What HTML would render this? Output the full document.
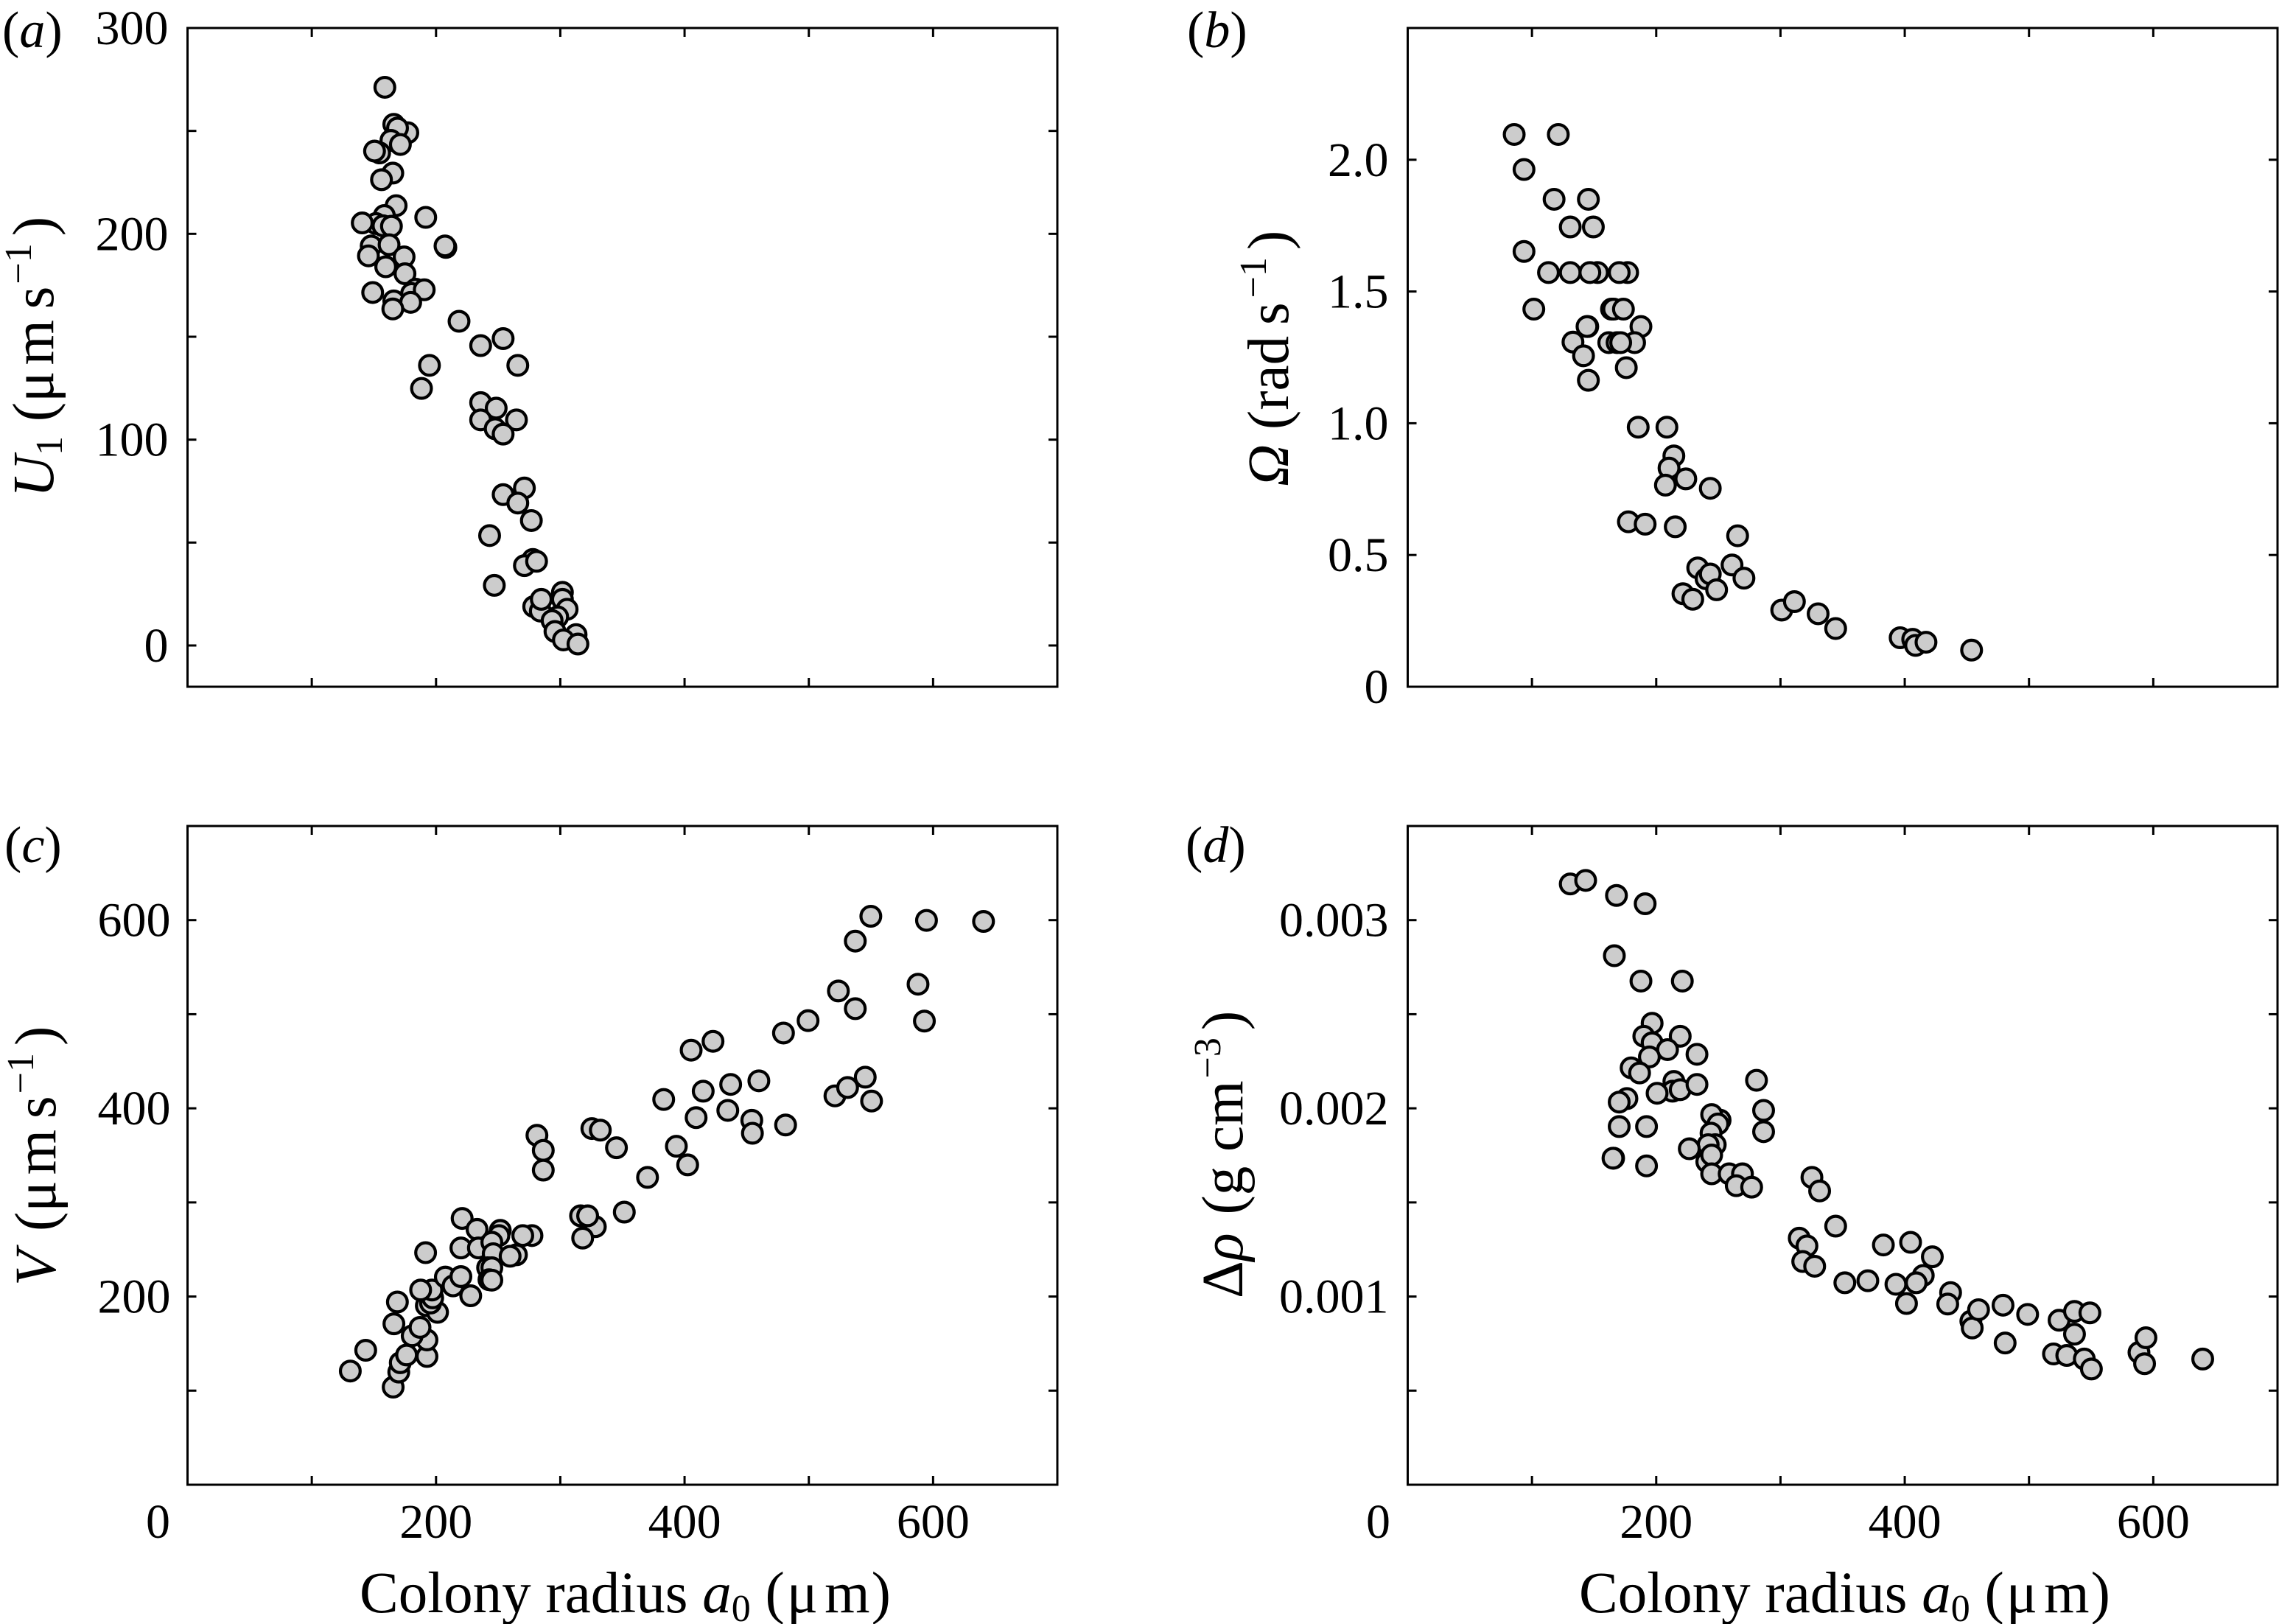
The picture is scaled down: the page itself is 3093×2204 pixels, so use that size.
<!DOCTYPE html>
<html lang="en">
<head>
<meta charset="utf-8">
<title>Colony radius scatter panels</title>
<style>
  html, body { margin: 0; padding: 0; background: #fff; }
  svg { display: block; }
  text { font-family: "Liberation Serif", "DejaVu Serif", serif; fill: #000; }
  .tick-label { font-size: 66px; }
  .axis-title { font-size: 79px; }
  .panel-tag { font-size: 70px; }
  .i { font-style: italic; }
</style>
</head>
<body>
<svg id="figure" xmlns="http://www.w3.org/2000/svg" width="3093" height="2204" viewBox="0 0 3093 2204">
  <rect x="0" y="0" width="3093" height="2204" fill="#fff"/>

  <text class="panel-tag" x="3" y="64">(<tspan class="i">a</tspan>)</text>
  <text class="panel-tag" x="1611" y="64">(<tspan class="i">b</tspan>)</text>
  <text class="panel-tag" x="6" y="1170">(<tspan class="i">c</tspan>)</text>
  <text class="panel-tag" x="1609" y="1170">(<tspan class="i">d</tspan>)</text>

  <text class="axis-title" transform="translate(72,675) rotate(-90)"><tspan class="i">U</tspan><tspan font-size="52" dy="12">1</tspan><tspan dy="-12"> (μ</tspan><tspan dx="8">m</tspan><tspan dx="-5"> s</tspan><tspan font-size="52" dy="-30" dx="3">−1</tspan><tspan dy="30" dx="10">)</tspan></text>
  <text class="axis-title" transform="translate(1748,660) rotate(-90)"><tspan class="i">Ω</tspan> (rad<tspan dx="-5"> s</tspan><tspan font-size="52" dy="-30" dx="6">−1</tspan><tspan dy="30" dx="10">)</tspan></text>
  <text class="axis-title" transform="translate(75,1745) rotate(-90)"><tspan class="i">V</tspan><tspan dx="6"> (μ</tspan><tspan dx="8">m</tspan><tspan dx="-5"> s</tspan><tspan font-size="52" dy="-30" dx="3">−1</tspan><tspan dy="30" dx="10">)</tspan></text>
  <text class="axis-title" transform="translate(1686,1762) rotate(-90)">Δ<tspan class="i">ρ</tspan><tspan dx="5"> (g cm</tspan><tspan font-size="52" dy="-30" dx="3">−3</tspan><tspan dy="30" dx="10">)</tspan></text>

  <text class="axis-title" x="488" y="2188">Colony radius <tspan class="i">a</tspan><tspan font-size="52" dy="12">0</tspan><tspan dy="-12"> (</tspan><tspan dx="3">μ</tspan><tspan dx="9">m</tspan><tspan dx="2">)</tspan></text>
  <text class="axis-title" x="2143" y="2188">Colony radius <tspan class="i">a</tspan><tspan font-size="52" dy="12">0</tspan><tspan dy="-12"> (</tspan><tspan dx="3">μ</tspan><tspan dx="9">m</tspan><tspan dx="2">)</tspan></text>
</svg>

<script>
// Shared tick values
const xTicks = [0, 100, 200, 300, 400, 500, 600, 700];
const xTickLabels = ['0', '200', '400', '600'];
const xLabelledTicks = [0, 200, 400, 600];

// Panel (a): U1 against colony radius
const aRadius = [158.8,166,177.3,169,163.7,171.3,154.6,150.5,165.2,156.1,167.9,191.7,158.4,151.6,140.6,157.3,164.1,207.9,207.2,147.8,162.2,145.6,174.3,159.5,175,149,183.7,180.3,190.5,166,179.6,165.2,218.5,235.9,254,265.8,194.7,188.3,235.9,248.4,235.9,264.7,247.6,254,271.1,254,265.8,276.7,243.1,277.9,271.1,280.9,246.9,301.7,278.6,283.9,284.7,301.7,305.5,297.9,293.4,295.7,312.7,302.5,314.2];
const aSpeed = [271.2,253.2,249.1,251.4,245.4,243.4,239.3,240.2,229.5,226.3,213.7,208,208.9,205,205.3,203.9,203.7,193.4,194.1,194.1,194.7,189.3,188.8,184,180.6,171.5,173.1,171,172.8,167.4,166.7,163.5,157.5,145.7,149.1,136.1,136.1,124.9,118,115.3,109.6,109.6,105.3,102.7,76.5,73.3,69.2,60.7,53.4,41.8,38.8,40.9,29.2,25.8,18.9,16.7,22.4,22.4,17.6,13.9,12.1,6.8,5.3,2.7,0.7];
const aYTicks = [0, 50, 100, 150, 200, 250, 300];
const aYLabelledTicks = [0, 100, 200, 300];
const aYTickLabels = ['0', '100', '200', '300'];

// Panel (b): Omega against colony radius
const bRadius = [85.7,121.2,93.6,117.8,145.4,130.8,149.4,93.6,113.3,130.8,152.8,146.6,177,170.2,101.5,164,165.7,173.6,144.9,144.3,187.7,133,161.8,182.6,168.5,171.4,141.5,175.9,145.4,185.5,208.6,214.2,210.3,223.8,207.4,243.5,177.6,191.1,215.3,265.5,233.4,261,270.6,240.1,243.5,248.6,221.5,229.4,301,311.2,330.3,344.4,396.3,406.4,408.7,417.1,453.8];
const bOmega = [2.096,2.096,1.963,1.85,1.85,1.745,1.745,1.652,1.572,1.572,1.572,1.572,1.572,1.572,1.433,1.433,1.433,1.433,1.367,1.367,1.367,1.308,1.306,1.306,1.306,1.306,1.256,1.211,1.163,0.985,0.985,0.876,0.83,0.789,0.765,0.753,0.626,0.617,0.607,0.573,0.451,0.462,0.412,0.41,0.428,0.368,0.353,0.332,0.291,0.323,0.277,0.221,0.186,0.18,0.157,0.169,0.139];
const bYTicks = [0, 0.5, 1, 1.5, 2, 2.5];
const bYLabelledTicks = [0, 0.5, 1, 1.5, 2];
const bYTickLabels = ['0', '0.5', '1.0', '1.5', '2.0'];

// Panel (c): V against colony radius
const cRadius = [131,143.4,165.5,170,171.2,176.3,192.7,192.7,180.8,187.1,166.1,168.9,191.6,192.2,201.2,195.6,197.3,196.7,187.6,207.5,213.7,220,227.9,221,220,233,234.1,251.7,250.6,244.9,246,264.7,259.6,241.5,244.9,242.6,244.9,277.2,269.8,281.2,286.3,286.3,316.3,328.2,322,318,325.4,332.2,345.2,351.5,370.2,383.2,393.4,402.5,405.3,422.9,415,409.3,437.1,434.8,459.8,454.1,454.6,479.6,481.3,499.4,521,523.8,531.2,537.4,537.4,545.4,550.5,549.9,587.9,593,594.7,640.6];
const cSpeed = [120.8,142.9,103.7,119.7,129.7,137.9,136.3,153.9,158.3,167.2,171,194.2,246.6,190.3,183.2,193.1,198.6,206.9,206.9,220.7,211.3,221.2,200.8,283,251.6,271.4,251.6,270.3,264.8,257.7,245.5,244.4,242.8,230.6,230.6,217.9,217.4,264.8,264.8,371.3,355.3,334.3,285.8,274.2,285.8,262.1,378.5,376.8,358.1,289.7,326.6,409.4,359.7,339.9,461.8,471.2,418.2,390.1,425.4,397.8,429.2,387.3,373.5,480,382.3,493.2,413.2,524.7,422.1,505.9,577.7,433.1,407.7,604.1,531.9,492.7,599.7,598.6];
const cYTicks = [0, 100, 200, 300, 400, 500, 600, 700];
const cYLabelledTicks = [200, 400, 600];
const cYTickLabels = ['200', '400', '600'];

// Panel (d): density difference against colony radius
const dRadius = [130.8,143.2,168,191.1,166.3,187.7,221,196.7,190,219.3,196.7,209.1,194.5,232.8,179.8,186.6,280.7,214.2,213.1,219.3,232.8,200.7,176.4,170.2,286.4,251.4,244.6,249.7,170.2,192.2,286.4,244.1,247.5,241.8,226.6,240.7,244.6,165.7,165.2,192.2,244.6,258.7,269.4,264.4,276.8,325.3,331.5,344.4,315.1,321.3,317.9,327.5,351.8,370.3,382.8,404.7,422.2,414.9,409.2,392.9,401.4,436.9,434.6,453.2,454.3,459.4,479.1,480.8,498.9,524.2,536.6,549,536.6,519.7,530.4,544.5,550.2,588.5,593,594.1,639.8];
const dDensity = [0.003192,0.003211,0.003131,0.003087,0.002811,0.002676,0.002676,0.002452,0.002383,0.002383,0.002348,0.002312,0.002273,0.002287,0.002215,0.002188,0.002149,0.002143,0.002091,0.002099,0.002127,0.00208,0.002052,0.002033,0.001989,0.001937,0.001967,0.001917,0.001903,0.001903,0.001876,0.001868,0.001807,0.001807,0.001785,0.001716,0.001752,0.001735,0.001735,0.001694,0.001652,0.001652,0.001652,0.001589,0.001581,0.001633,0.001561,0.001374,0.00131,0.001269,0.001186,0.001161,0.001073,0.001084,0.001274,0.001288,0.001211,0.001112,0.001073,0.001065,0.000963,0.001021,0.00096,0.000869,0.000833,0.00093,0.000954,0.000753,0.000905,0.000874,0.000921,0.000913,0.0008,0.000695,0.000687,0.000668,0.000615,0.000703,0.000643,0.000781,0.000668];
const dYTicks = [0, 0.0005, 0.001, 0.0015, 0.002, 0.0025, 0.003, 0.0035];
const dYLabelledTicks = [0.001, 0.002, 0.003];
const dYTickLabels = ['0.001', '0.002', '0.003'];

const svgNS = 'http://www.w3.org/2000/svg';
const figure = document.getElementById('figure');

function linearScale(domainMin, domainMax, rangeMin, rangeMax) {
  return function (value) {
    return rangeMin + (value - domainMin) / (domainMax - domainMin) * (rangeMax - rangeMin);
  };
}

function drawLine(parent, x1, y1, x2, y2, width) {
  const line = document.createElementNS(svgNS, 'line');
  line.setAttribute('x1', x1);
  line.setAttribute('y1', y1);
  line.setAttribute('x2', x2);
  line.setAttribute('y2', y2);
  line.setAttribute('stroke', '#000');
  line.setAttribute('stroke-width', width);
  parent.appendChild(line);
  return line;
}

function drawText(parent, x, y, anchor, content) {
  const label = document.createElementNS(svgNS, 'text');
  label.setAttribute('x', x);
  label.setAttribute('y', y);
  label.setAttribute('text-anchor', anchor);
  label.setAttribute('class', 'tick-label');
  label.textContent = content;
  parent.appendChild(label);
  return label;
}

function drawPanel(id, box, yMin, yMax, opts) {
  const xAxis = linearScale(0, 700, box.left, box.right);
  const yAxis = linearScale(yMin, yMax, box.bottom, box.top);
  const tickLength = 12;

  const group = document.createElementNS(svgNS, 'g');
  
  
  figure.appendChild(group);

  const frame = document.createElementNS(svgNS, 'rect');
  
  
  frame.setAttribute('x', box.left);
  frame.setAttribute('y', box.top);
  frame.setAttribute('width', box.right - box.left);
  frame.setAttribute('height', box.bottom - box.top);
  frame.setAttribute('fill', 'none');
  frame.setAttribute('stroke', '#000');
  frame.setAttribute('stroke-width', 3);
  group.appendChild(frame);

  xTicks.forEach(function (value) {
    const x = xAxis(value);
    const lower = drawLine(group, x, box.bottom, x, box.bottom - tickLength, 3);
    
    
    const upper = drawLine(group, x, box.top, x, box.top + tickLength, 3);
    
    
  });

  opts.yTicks.forEach(function (value) {
    const y = yAxis(value);
    const leftTick = drawLine(group, box.left, y, box.left + tickLength, y, 3);
    
    
    const rightTick = drawLine(group, box.right, y, box.right - tickLength, y, 3);
    
    
  });

  opts.yLabelled.forEach(function (value, index) {
    const label = drawText(group, box.left - opts.labelGap, yAxis(value) + 22, 'end', opts.yLabels[index]);
    
    
  });

  if (opts.showXLabels) {
    xLabelledTicks.forEach(function (value, index) {
      const x = value === 0 ? xAxis(value) - 40 : xAxis(value);
      const label = drawText(group, x, box.bottom + 72, 'middle', xTickLabels[index]);
      
      
    });
  }

  opts.xs.forEach(function (value, index) {
    const point = document.createElementNS(svgNS, 'circle');
    
    
    point.setAttribute('cx', xAxis(value));
    point.setAttribute('cy', yAxis(opts.ys[index]));
    point.setAttribute('r', 13.4);
    point.setAttribute('fill', '#cccccc');
    point.setAttribute('stroke', '#000');
    point.setAttribute('stroke-width', 4.2);
    group.appendChild(point);
  });
}

drawPanel('a', { left: 254.5, right: 1435, top: 38, bottom: 932 }, -20.05, 300, {
  xs: aRadius, ys: aSpeed, yTicks: aYTicks, yLabelled: aYLabelledTicks, yLabels: aYTickLabels,
  labelGap: 26, showXLabels: false
});
drawPanel('b', { left: 1910.5, right: 3091, top: 38, bottom: 932 }, 0, 2.5, {
  xs: bRadius, ys: bOmega, yTicks: bYTicks, yLabelled: bYLabelledTicks, yLabels: bYTickLabels,
  labelGap: 26, showXLabels: false
});
drawPanel('c', { left: 254.5, right: 1435, top: 1121, bottom: 2015 }, 0, 700, {
  xs: cRadius, ys: cSpeed, yTicks: cYTicks, yLabelled: cYLabelledTicks, yLabels: cYTickLabels,
  labelGap: 23, showXLabels: true
});
drawPanel('d', { left: 1910.5, right: 3091, top: 1121, bottom: 2015 }, 0, 0.0035, {
  xs: dRadius, ys: dDensity, yTicks: dYTicks, yLabelled: dYLabelledTicks, yLabels: dYTickLabels,
  labelGap: 26, showXLabels: true
});
</script>
</body>
</html>
